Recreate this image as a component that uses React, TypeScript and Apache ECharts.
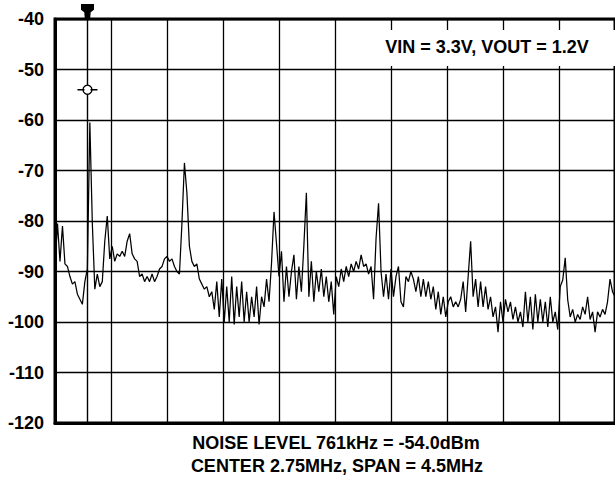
import React, { useEffect, useRef } from "react";
import * as echarts from "echarts";

// Frequency axis: offsets (MHz) from the span start (CENTER 2.75MHz, SPAN 4.5MHz -> 0.5..5.0 MHz)
const spanStartMHz = 0.5;
const spanMHz = 4.5;
const divisionMHz = 0.45;
const sampleStepMHz = 0.02;
const markerFreqMHz = 0.761;
const markerLevelDbm = -54.0;

const yTicks = [-120, -110, -100, -90, -80, -70, -60, -50, -40];

// Trace levels (dBm), one per sample step
const levels = [
  -89, -80.5, -88, -81, -88.5, -89, -91, -92.5, -92, -94.5,
  -95.5, -96.5, -92, -89.5, -60.5, -80.5, -93.5, -90.5, -93, -92,
  -84, -79, -87.5, -85, -88, -86.5, -87, -86, -87, -84,
  -82.5, -86.5, -87.5, -88, -91, -90.5, -92, -91, -92, -90.5,
  -92, -91, -89.5, -89, -87.5, -87, -88, -87.5, -89, -90,
  -90.5, -80.5, -68.5, -74.5, -85, -88, -89, -88.5, -91.5, -92.5,
  -93.5, -93, -95, -94, -97.5, -92, -99, -91.5, -100, -93,
  -100, -91, -100.5, -93, -99, -92, -100, -94, -100, -95,
  -99, -93, -100.5, -95, -97, -91.5, -96, -88.3, -78.2, -84.5,
  -91, -86, -96, -89, -95, -90, -86.7, -95.5, -89, -94,
  -84.8, -74.4, -95, -88, -96, -90, -94, -89.5, -95, -91,
  -96, -92, -98.5, -91, -93, -89.5, -92, -89, -91, -88.5,
  -90, -88, -89.5, -86.7, -89, -88.5, -90.5, -89, -95.5, -83.4,
  -76.5, -90, -95, -90.5, -95.5, -89.5, -95, -91, -89, -96,
  -97, -91, -92, -90, -91.5, -94, -91, -95, -91.5, -95,
  -92, -95.5, -93, -97.5, -94, -98.5, -95, -99, -96, -95,
  -97, -96, -97, -95.5, -92, -98, -91, -84, -95, -91.5,
  -97, -92, -97, -93, -97.5, -95, -99, -97, -102, -96,
  -100, -95.5, -98, -96, -99.5, -97, -100, -98, -101, -94,
  -100, -95, -101.5, -94.5, -100, -95.5, -100, -96, -101, -95,
  -100, -98, -101.5, -93, -91.7, -87.3, -95.6, -99, -97.5, -100,
  -98.5, -99.5, -97, -98.5, -95, -99.5, -98, -102, -98, -99,
  -97.5, -98.5, -96, -91.5, -94, -95,
];

const annotationText = "VIN = 3.3V, VOUT = 1.2V";
const footerLines = ["NOISE LEVEL 761kHz = -54.0dBm", "CENTER 2.75MHz, SPAN = 4.5MHz"];

const FONT = "'Liberation Sans', Arial, sans-serif";

export default function App() {
  const ref = useRef<HTMLDivElement>(null);

  useEffect(() => {
    if (!ref.current) return;
    const chart = echarts.init(ref.current, undefined, { renderer: "svg" });
    const trace = levels.map((v, i) => [+(i * sampleStepMHz).toFixed(4), v]);
    const markerX = markerFreqMHz - spanStartMHz;

    chart.setOption({
      animation: false,
      backgroundColor: "#fff",
      grid: {
        left: 55,
        top: 19,
        width: 563,
        height: 404,
        show: true,
        borderColor: "#000",
        borderWidth: 3,
        backgroundColor: "transparent",
      },
      xAxis: {
        type: "value",
        min: 0,
        max: spanMHz,
        interval: divisionMHz,
        axisLabel: { show: false },
        axisTick: { show: false },
        axisLine: { show: true, lineStyle: { color: "#000", width: 3 } },
        splitLine: { show: true, lineStyle: { color: "#000", width: 1.3 } },
      },
      yAxis: {
        type: "value",
        min: yTicks[0],
        max: yTicks[yTicks.length - 1],
        interval: 10,
        axisTick: { show: false },
        axisLine: { show: true, lineStyle: { color: "#000", width: 3 } },
        splitLine: { show: true, lineStyle: { color: "#000", width: 1.3 } },
        axisLabel: {
          color: "#000",
          fontFamily: FONT,
          fontWeight: "bold",
          fontSize: 18,
          margin: 11,
        },
      },
      series: [
        {
          type: "line",
          data: trace,
          symbol: "none",
          lineStyle: { color: "#000", width: 1.25 },
          z: 3,
          markLine: {
            silent: true,
            symbol: "none",
            label: { show: false },
            lineStyle: { color: "#000", width: 1.4, type: "solid" },
            data: [{ xAxis: markerX }],
          },
          markPoint: {
            silent: true,
            label: { show: false },
            data: [
              {
                coord: [markerX, yTicks[yTicks.length - 1]],
                symbol: "path://M0,0 L12,0 L12,5 L9,7 L8.5,12 L3.5,12 L3,7 L0,5 Z",
                symbolSize: [13, 14],
                symbolOffset: [0, -8],
                itemStyle: { color: "#000" },
              },
              {
                coord: [markerX, markerLevelDbm],
                symbol: "circle",
                symbolSize: 9,
                itemStyle: { color: "#fff", borderColor: "#000", borderWidth: 1.4 },
              },
              {
                coord: [markerX, markerLevelDbm],
                symbol: "path://M0,0 L7,0 L7,1 L0,1 Z M13,0 L20,0 L20,1 L13,1 Z",
                symbolSize: [20, 1.4],
                itemStyle: { color: "#000" },
              },
            ],
          },
        },
      ],
      graphic: [
        {
          type: "rect",
          z: 100,
          shape: { x: 372, y: 30, width: 243, height: 36 },
          style: { fill: "#fff" },
        },
        {
          type: "text",
          z: 101,
          x: 487,
          y: 47,
          style: {
            text: annotationText,
            font: `bold 18px ${FONT}`,
            fill: "#000",
            textAlign: "center",
            textVerticalAlign: "middle",
          },
        },
        {
          type: "text",
          z: 101,
          x: 336,
          y: 443,
          style: {
            text: footerLines[0],
            font: `bold 18px ${FONT}`,
            fill: "#000",
            textAlign: "center",
            textVerticalAlign: "middle",
          },
        },
        {
          type: "text",
          z: 101,
          x: 337,
          y: 466,
          style: {
            text: footerLines[1],
            font: `bold 18px ${FONT}`,
            fill: "#000",
            textAlign: "center",
            textVerticalAlign: "middle",
          },
        },
      ],
    });

    return () => chart.dispose();
  }, []);

  return (
    <div
      ref={ref}
      style={{ position: "fixed", left: 0, top: 0, width: 615, height: 479, background: "#fff" }}
    />
  );
}
